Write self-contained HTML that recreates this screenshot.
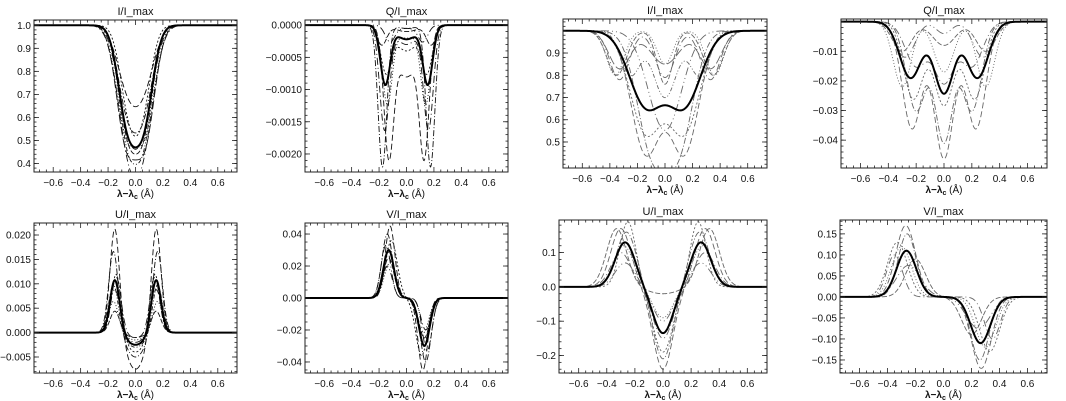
<!DOCTYPE html>
<html><head><meta charset="utf-8">
<style>
html,body{margin:0;padding:0;background:#fff;}
svg{display:block;}
text{font-family:"Liberation Sans","DejaVu Sans",sans-serif;fill:#111;}
</style></head>
<body>
<svg id="fig" width="1066" height="401" viewBox="0 0 1066 401" xmlns="http://www.w3.org/2000/svg"></svg>
<script>
// ---- data: per panel, per curve component arrays (index 0 = bold curve) ----
// model components: base + c*G(x,0,w0) + a*(G(x,-s,w1) + k*G(x,s,w1))
const p1_c  = [0,0,0,0,0,0,0,0,0,0];
const p1_a  = [-0.395,-0.238,-0.335,-0.328,-0.373,-0.417,-0.432,-0.447,-0.462,-0.477];
const p1_s  = [0.06,0.06,0.06,0.05,0.06,0.06,0.07,0.06,0.06,0.07];
const p1_w0 = [0.1,0.1,0.1,0.1,0.1,0.1,0.1,0.1,0.1,0.1];
const p1_w1 = [0.095,0.11,0.1,0.09,0.105,0.095,0.1,0.11,0.092,0.1];

const p2_c  = [-0.00022,-0.0008,-0.00005,-0.0004,-0.00005,-0.0001,-0.0002,-0.0003];
const p2_a  = [-0.0009,-0.0019,-0.0022,-0.0007,-0.00025,-0.0003,-0.0012,-0.0016];
const p2_s  = [0.155,0.13,0.175,0.15,0.12,0.18,0.14,0.16];
const p2_w0 = [0.11,0.11,0.1,0.11,0.1,0.12,0.11,0.11];
const p2_w1 = [0.05,0.05,0.045,0.055,0.05,0.05,0.05,0.05];

const p3_c  = [0,0,0,0,0,-0.24,-0.15,-0.21,-0.3,-0.15];
const p3_a  = [-0.33,-0.545,-0.5,-0.45,-0.25,-0.2,-0.2,-0.22,-0.2,-0.17];
const p3_s  = [0.14,0.14,0.1,0.14,0.05,0.35,0.36,0.33,0.25,0.33];
const p3_w0 = [0.1,0.1,0.1,0.1,0.1,0.08,0.08,0.1,0.12,0.15];
const p3_w1 = [0.17,0.15,0.15,0.16,0.15,0.1,0.09,0.1,0.1,0.11];

const p4_c  = [-0.024,-0.046,-0.04,-0.028,-0.004,-0.008,-0.017,-0.02];
const p4_a  = [-0.019,-0.036,-0.03,-0.026,-0.012,-0.01,-0.022,-0.015];
const p4_s  = [0.24,0.23,0.2,0.22,0.28,0.3,0.3,0.2];
const p4_w0 = [0.1,0.1,0.09,0.1,0.08,0.12,0.1,0.1];
const p4_w1 = [0.11,0.1,0.1,0.1,0.1,0.1,0.09,0.11];

const p5_c  = [-0.0025,-0.0075,-0.005,-0.004,-0.002,-0.001,-0.0015,-0.001,-0.003];
const p5_a  = [0.011,0.022,0.017,0.0125,0.009,0.0045,0.0065,0.0115,0.01];
const p5_s  = [0.15,0.15,0.16,0.14,0.15,0.15,0.16,0.14,0.16];
const p5_w0 = [0.1,0.1,0.1,0.1,0.1,0.1,0.1,0.1,0.1];
const p5_w1 = [0.05,0.05,0.05,0.05,0.055,0.05,0.05,0.05,0.05];

const p6_c  = [0,0,0,0,0,0,0,0];
const p6_a  = [0.03,0.045,0.04,0.036,0.033,0.025,0.022,0.02];
const p6_s  = [0.13,0.12,0.14,0.11,0.15,0.13,0.12,0.14];
const p6_w0 = [0.1,0.1,0.1,0.1,0.1,0.1,0.1,0.1];
const p6_w1 = [0.055,0.05,0.055,0.06,0.05,0.055,0.06,0.05];

const p7_c  = [-0.135,-0.24,-0.21,-0.19,-0.1,-0.02,-0.09,-0.15];
const p7_a  = [0.13,0.17,0.16,0.19,0.07,0.17,0.12,0.1];
const p7_s  = [0.27,0.3,0.26,0.25,0.27,0.33,0.28,0.3];
const p7_w0 = [0.1,0.1,0.1,0.1,0.1,0.15,0.1,0.1];
const p7_w1 = [0.1,0.1,0.1,0.08,0.1,0.1,0.1,0.1];

const p8_c  = [0,0,0,0,0,0,0,0];
const p8_a  = [0.11,0.17,0.15,0.13,0.075,0.09,0.12,0.1];
const p8_s  = [0.265,0.27,0.26,0.33,0.25,0.2,0.3,0.35];
const p8_w0 = [0.1,0.1,0.1,0.1,0.1,0.1,0.1,0.1];
const p8_w1 = [0.1,0.1,0.09,0.1,0.12,0.1,0.1,0.08];

// tick label arrays
const xTicks = [-0.6,-0.4,-0.2,0.0,0.2,0.4,0.6];
const p1_yt = [0.4,0.5,0.6,0.7,0.8,0.9,1.0];
const p2_yt = [-0.0020,-0.0015,-0.0010,-0.0005,0.0000];
const p3_yt = [0.5,0.6,0.7,0.8,0.9];
const p4_yt = [-0.04,-0.03,-0.02,-0.01];
const p5_yt = [-0.005,0.000,0.005,0.010,0.015,0.020];
const p6_yt = [-0.04,-0.02,0.00,0.02,0.04];
const p7_yt = [-0.2,-0.1,0.0,0.1];
const p8_yt = [-0.15,-0.10,-0.05,0.00,0.05,0.10,0.15];

const panels = [
 {name:'i-top-left',title:'I/I_max',box:[34,20,237,172],y:[0.363,1.023],yt:p1_yt,dec:1,minor:0.02,base:1,k:1,c:p1_c,a:p1_a,s:p1_s,w0:p1_w0,w1:p1_w1,col:'#111'},
 {name:'q-top-left',title:'Q/I_max',box:[305,20,508,172],y:[-0.00228,0.00008],yt:p2_yt,dec:4,minor:0.0001,base:0,k:1,c:p2_c,a:p2_a,s:p2_s,w0:p2_w0,w1:p2_w1,col:'#111'},
 {name:'i-top-right',title:'I/I_max',box:[563,19,767,168],y:[0.383,1.053],yt:p3_yt,dec:1,minor:0.02,base:1,k:1,c:p3_c,a:p3_a,s:p3_s,w0:p3_w0,w1:p3_w1,col:'#666'},
 {name:'q-top-right',title:'Q/I_max',box:[841,19,1047,168],y:[-0.0494,0.0009],yt:p4_yt,dec:2,minor:0.002,base:0,k:1,c:p4_c,a:p4_a,s:p4_s,w0:p4_w0,w1:p4_w1,col:'#666'},
 {name:'u-bottom-left',title:'U/I_max',box:[34,223,237,373],y:[-0.00828,0.02246],yt:p5_yt,dec:3,minor:0.001,base:0,k:1,c:p5_c,a:p5_a,s:p5_s,w0:p5_w0,w1:p5_w1,col:'#111'},
 {name:'v-bottom-left',title:'V/I_max',box:[305,223,508,373],y:[-0.0469,0.0469],yt:p6_yt,dec:2,minor:0.005,base:0,k:-1,c:p6_c,a:p6_a,s:p6_s,w0:p6_w0,w1:p6_w1,col:'#111'},
 {name:'u-bottom-right',title:'U/I_max',box:[559,220,767,373],y:[-0.251,0.195],yt:p7_yt,dec:1,minor:0.02,base:0,k:1,c:p7_c,a:p7_a,s:p7_s,w0:p7_w0,w1:p7_w1,col:'#666'},
 {name:'v-bottom-right',title:'V/I_max',box:[840,220,1047,373],y:[-0.181,0.183],yt:p8_yt,dec:2,minor:0.01,base:0,k:-1,c:p8_c,a:p8_a,s:p8_s,w0:p8_w0,w1:p8_w1,col:'#666'}
];
const dashes = ['6,3','6,2,1,2','2,2','8,3,1,3,1,3','5,2','1,2','7,3,1,3','4,2,1,2,1,2','9,3'];
const NS='http://www.w3.org/2000/svg';
const svg=document.getElementById('fig');
function mk(tag,attrs,parent){const e=document.createElementNS(NS,tag);for(const k in attrs)e.setAttribute(k,attrs[k]);(parent||svg).appendChild(e);return e;}
function G(x,m,w){return Math.exp(-((x-m)/w)*((x-m)/w));}
function fmt(v,d){let s=Math.abs(v).toFixed(d);return (v< -1e-12?'\u2212':'')+s;}

panels.forEach((P)=>{
  const [x0,y0,x1,y1]=P.box;
  const g=mk('g',{});
  
  
  const sx=v=>x0+(v+0.74)/1.48*(x1-x0);
  const sy=v=>y1-(v-P.y[0])/(P.y[1]-P.y[0])*(y1-y0);
  const t=mk('text',{x:(x0+x1)/2,y:y0-5,'text-anchor':'middle','font-size':'11'},g);
  t.textContent=P.title;
  
  
  // curves: draw others first, bold last
  const clip='clip-'+P.name;
  const cp=mk('clipPath',{id:clip},g);mk('rect',{x:x0,y:y0,width:x1-x0,height:y1-y0},cp);
  const order=[];for(let i=1;i<P.a.length;i++)order.push(i);order.push(0);
  order.forEach(i=>{
    let d='';
    for(let x=-0.74;x<=0.7401;x+=0.004){
      const v=P.base+P.c[i]*G(x,0,P.w0[i])+P.a[i]*(G(x,-P.s[i],P.w1[i])+P.k*G(x,P.s[i],P.w1[i]));
      d+=(d?'L':'M')+sx(x).toFixed(2)+','+sy(v).toFixed(2);
    }
    const bold=i===0;
    const pth=mk('path',{d:d,fill:'none',stroke:bold?'#000':P.col,'stroke-width':bold?2:0.9,'clip-path':'url(#'+clip+')'},g);
    if(!bold)pth.setAttribute('stroke-dasharray',dashes[(i-1)%dashes.length]);
    
    
  });
  // frame
  const fr=mk('rect',{x:x0,y:y0,width:x1-x0,height:y1-y0,fill:'none',stroke:'#222','stroke-width':1},g);
  
  
  // x ticks
  for(let v=-0.7;v<=0.7001;v+=0.05){
    const X=sx(v);const major=Math.abs(Math.round(v*10)/10-v)<1e-6 && Math.round(v*10)%2===0;
    const L=major?5:2.5;
    mk('line',{x1:X,y1:y1,x2:X,y2:y1-L,stroke:'#222','stroke-width':0.8},g);
    mk('line',{x1:X,y1:y0,x2:X,y2:y0+L,stroke:'#222','stroke-width':0.8},g);
  }
  xTicks.forEach(v=>{
    const tx=mk('text',{x:sx(v),y:y1+14,'text-anchor':'middle','font-size':'10'},g);
    tx.textContent=fmt(v,1);
    
    
  });
  const xl=mk('text',{x:(x0+x1)/2,y:y1+25,'text-anchor':'middle','font-size':'10','font-weight':'bold'},g);
  xl.innerHTML='\u03bb\u2212\u03bb<tspan font-size="7" dy="2">c</tspan><tspan dy="-2" font-weight="normal"> (\u00c5)</tspan>';
  
  
  // y minor ticks
  const mstart=Math.ceil(P.y[0]/P.minor);
  for(let n=mstart;n*P.minor<=P.y[1];n++){
    const Y=sy(n*P.minor);
    mk('line',{x1:x0,y1:Y,x2:x0+2.5,y2:Y,stroke:'#222','stroke-width':0.8},g);
    mk('line',{x1:x1,y1:Y,x2:x1-2.5,y2:Y,stroke:'#222','stroke-width':0.8},g);
  }
  P.yt.forEach(v=>{
    const Y=sy(v);
    mk('line',{x1:x0,y1:Y,x2:x0+5,y2:Y,stroke:'#222','stroke-width':0.8},g);
    mk('line',{x1:x1,y1:Y,x2:x1-5,y2:Y,stroke:'#222','stroke-width':0.8},g);
    const ty=mk('text',{x:x0-3,y:Y+3.5,'text-anchor':'end','font-size':'10'},g);
    ty.textContent=fmt(v,P.dec);
    
    
  });
});
</script>
</body></html>
